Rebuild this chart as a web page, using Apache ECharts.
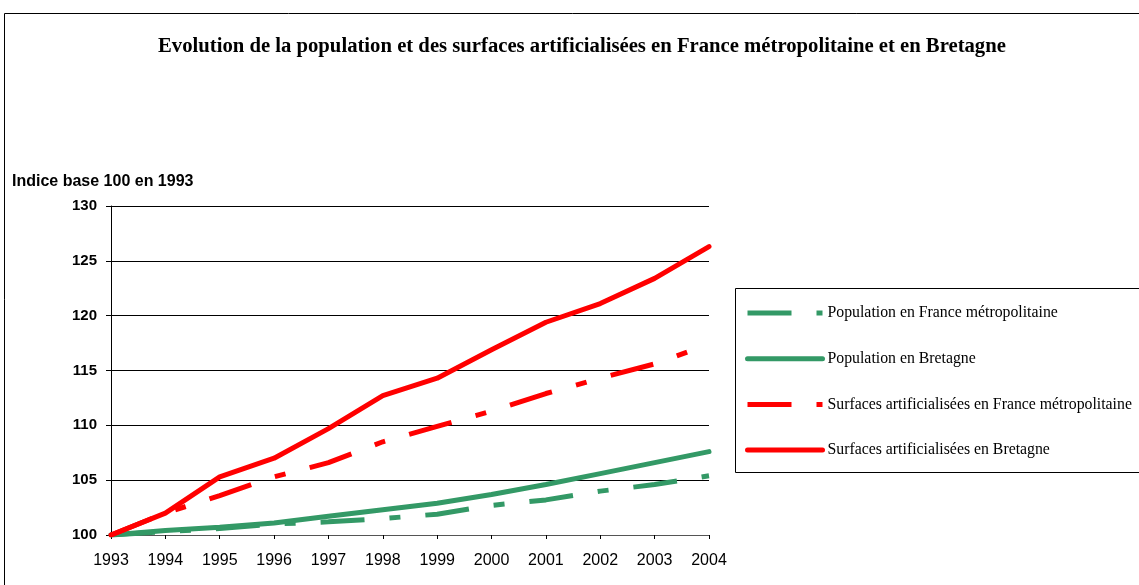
<!DOCTYPE html>
<html>
<head>
<meta charset="utf-8">
<script src="https://cdn.jsdelivr.net/npm/echarts@6/dist/echarts.min.js"></script>
<style>
  html, body { margin: 0; padding: 0; background: #fff; }
  #chart { width: 1139px; height: 585px; }
</style>
</head>
<body>
<div id="chart"></div>
<script>
// années
var years = ['1993', '1994', '1995', '1996', '1997', '1998', '1999', '2000', '2001', '2002', '2003', '2004'];
// indices base 100 en 1993
var popFrance = [100, 100.3, 100.6, 101.0, 101.2, 101.5, 101.9, 102.7, 103.2, 104.0, 104.6, 105.4];
var popBretagne = [100, 100.4, 100.7, 101.1, 101.7, 102.3, 102.9, 103.7, 104.6, 105.6, 106.6, 107.6];
var surfFrance = [100, 102.0, 103.6, 105.3, 106.6, 108.5, 109.9, 111.3, 112.9, 114.3, 115.6, 117.4];
var surfBretagne = [100, 102.0, 105.3, 107.0, 109.7, 112.7, 114.3, 116.9, 119.4, 121.1, 123.4, 126.3];
var seriesNames = [
    'Population en France métropolitaine',
    'Population en Bretagne',
    'Surfaces artificialisées en France métropolitaine',
    'Surfaces artificialisées en Bretagne'
];

var green = '#339966';
var red = '#ff0000';
var dashPattern = [44, 25, 11, 25];

var myChart = echarts.init(document.getElementById('chart'));
var option = {
    backgroundColor: '#fff',
    animation: false,
    title: {
        text: 'Evolution de la population et des surfaces artificialisées en France métropolitaine et en Bretagne',
        left: 153,
        top: 31,
        textStyle: { fontFamily: 'Liberation Serif', fontWeight: 'bold', fontSize: 20.7, color: '#000' }
    },
    graphic: [
        // cadre extérieur
        { type: 'rect', shape: { x: 4.5, y: 13.5, width: 1200, height: 700 }, style: { fill: 'none', stroke: '#000', lineWidth: 1 }, z: 0 },
        // cadre de la légende
        { type: 'rect', shape: { x: 735.5, y: 288.5, width: 420, height: 184 }, style: { fill: 'none', stroke: '#000', lineWidth: 1 }, z: 0 }
    ],
    legend: {
        orient: 'vertical',
        left: 740,
        top: 300,
        itemWidth: 75,
        itemHeight: 14,
        itemGap: 29.7,
        data: seriesNames,
        itemStyle: { opacity: 0 },
        lineStyle: { width: 5 },
        textStyle: { fontFamily: 'Liberation Serif', fontSize: 15.8, color: '#000' }
    },
    grid: { left: 111, right: 430, top: 206, bottom: 50, outerBoundsMode: 'none' },
    xAxis: {
        type: 'category',
        boundaryGap: false,
        data: years,
        axisLine: { lineStyle: { color: '#555', width: 1 } },
        axisTick: { show: true, length: 4, lineStyle: { color: '#000' } },
        axisLabel: { color: '#000', fontFamily: 'Liberation Sans', fontSize: 16, margin: 18 }
    },
    yAxis: {
        type: 'value',
        min: 100,
        max: 130,
        interval: 5,
        name: 'Indice base 100 en 1993',
        nameLocation: 'end',
        nameGap: 16,
        nameTextStyle: { align: 'left', padding: [0, 0, 0, -99], fontFamily: 'Liberation Sans', fontWeight: 'bold', fontSize: 16, color: '#000' },
        axisLine: { show: true, lineStyle: { color: '#000', width: 1 } },
        axisTick: { show: true, length: 5, lineStyle: { color: '#000' } },
        splitLine: { show: true, lineStyle: { color: '#000', width: 1 } },
        axisLabel: { color: '#000', fontFamily: 'Liberation Sans', fontWeight: 'bold', fontSize: 15, margin: 14 }
    },
    series: [
        {
            name: seriesNames[0], type: 'line', data: popFrance, symbol: 'none',
            itemStyle: { color: green },
            lineStyle: { color: green, width: 5, type: dashPattern, cap: 'butt' }
        },
        {
            name: seriesNames[1], type: 'line', data: popBretagne, symbol: 'none',
            itemStyle: { color: green },
            lineStyle: { color: green, width: 5, type: 'solid', cap: 'round' }
        },
        {
            name: seriesNames[2], type: 'line', data: surfFrance, symbol: 'none',
            itemStyle: { color: red },
            lineStyle: { color: red, width: 5, type: dashPattern, cap: 'butt' }
        },
        {
            name: seriesNames[3], type: 'line', data: surfBretagne, symbol: 'none',
            itemStyle: { color: red },
            lineStyle: { color: red, width: 5, type: 'solid', cap: 'round' }
        }
    ]
};
myChart.setOption(option);
window.addEventListener('resize', function () {
    myChart.resize();
});
</script>
</body>
</html>
